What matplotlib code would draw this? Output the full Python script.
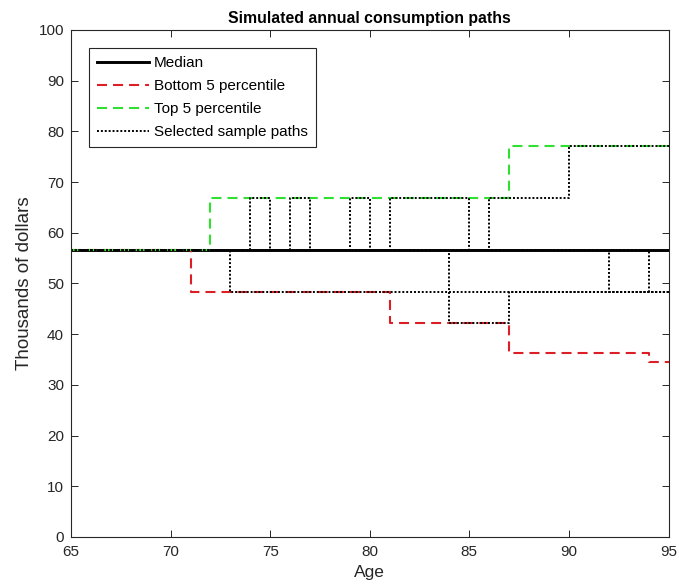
import numpy as np
import matplotlib
matplotlib.use("Agg")
import matplotlib.pyplot as plt

# ── Data (step change points: age where a new level starts) ───────────────────
median_ages = [65, 95]
median_vals = [56.6, 56.6]

bottom_ages = [65, 71, 81, 87, 94, 95]
bottom_vals = [56.6, 48.4, 42.3, 36.2, 34.5, 34.5]

top_ages = [65, 72, 87, 95]
top_vals = [56.6, 66.9, 77.1, 77.1]

# selected sample paths
path_a_ages = [65, 74, 75, 76, 77, 79, 80, 81, 85, 86, 90, 95]
path_a_vals = [56.6, 66.9, 56.6, 66.9, 56.6, 66.9, 56.6, 66.9, 56.6, 66.9, 77.1, 77.1]
path_b_ages = [65, 73, 95]
path_b_vals = [56.6, 48.4, 48.4]
path_c_ages = [65, 84, 87, 95]
path_c_vals = [56.6, 42.3, 48.4, 48.4]
path_d_ages = [65, 92, 95]
path_d_vals = [56.6, 48.4, 48.4]
path_e_ages = [65, 94, 95]
path_e_vals = [56.6, 48.4, 48.4]

x_ticks = [65, 70, 75, 80, 85, 90, 95]
y_ticks = [0, 10, 20, 30, 40, 50, 60, 70, 80, 90, 100]

RED = "#dc1f26"
GREEN = "#2fe02f"
AXIS_GRAY = "#262626"

plt.rcParams["font.family"] = ["Liberation Sans", "DejaVu Sans"]

fig = plt.figure(figsize=(6.79, 5.87), dpi=100)
ax = fig.add_axes([0.1046, 0.0852, 0.880, 0.8637])

ax.step(median_ages, median_vals, where="post", color="black", lw=2.1, label="Median")
ax.step(bottom_ages, bottom_vals, where="post", color=RED, lw=1.5,
        dashes=(4.8, 2.9), label="Bottom 5 percentile")
ax.step(top_ages, top_vals, where="post", color=GREEN, lw=1.5,
        dashes=(4.8, 2.9), label="Top 5 percentile")

paths = [(path_a_ages, path_a_vals), (path_b_ages, path_b_vals),
         (path_c_ages, path_c_vals), (path_d_ages, path_d_vals),
         (path_e_ages, path_e_vals)]
for i, (ages, vals) in enumerate(paths):
    ax.step(ages, vals, where="post", color="black", lw=1.4, dashes=(1, 1),
            label="Selected sample paths" if i == 0 else None)

ax.set_xlim(65, 95)
ax.set_ylim(0, 100)
ax.set_xticks(x_ticks)
ax.set_yticks(y_ticks)
ax.tick_params(direction="in", length=5, width=0.7, top=True, right=True,
               labelsize=11, colors=AXIS_GRAY)
ax.tick_params(axis="x", pad=6)
ax.tick_params(axis="y", pad=5)
for sp in ax.spines.values():
    sp.set_color(AXIS_GRAY)
    sp.set_linewidth(0.8)

ax.set_xlabel("Age", fontsize=12.5, color=AXIS_GRAY, labelpad=4)
ax.set_ylabel("Thousands of dollars", fontsize=13.5, color=AXIS_GRAY, labelpad=4)
ax.set_title("Simulated annual consumption paths", fontsize=11.4,
             fontweight="bold", pad=5)

leg = ax.legend(loc="upper left", bbox_to_anchor=(0.03, 0.9645), borderaxespad=0,
                fontsize=11, frameon=True, fancybox=False, framealpha=1,
                handlelength=3.4, handletextpad=0.3, labelspacing=0.58,
                borderpad=0.55)
leg.get_frame().set_edgecolor(AXIS_GRAY)
leg.get_frame().set_linewidth(0.8)

fig.savefig("out.png", dpi=100)
